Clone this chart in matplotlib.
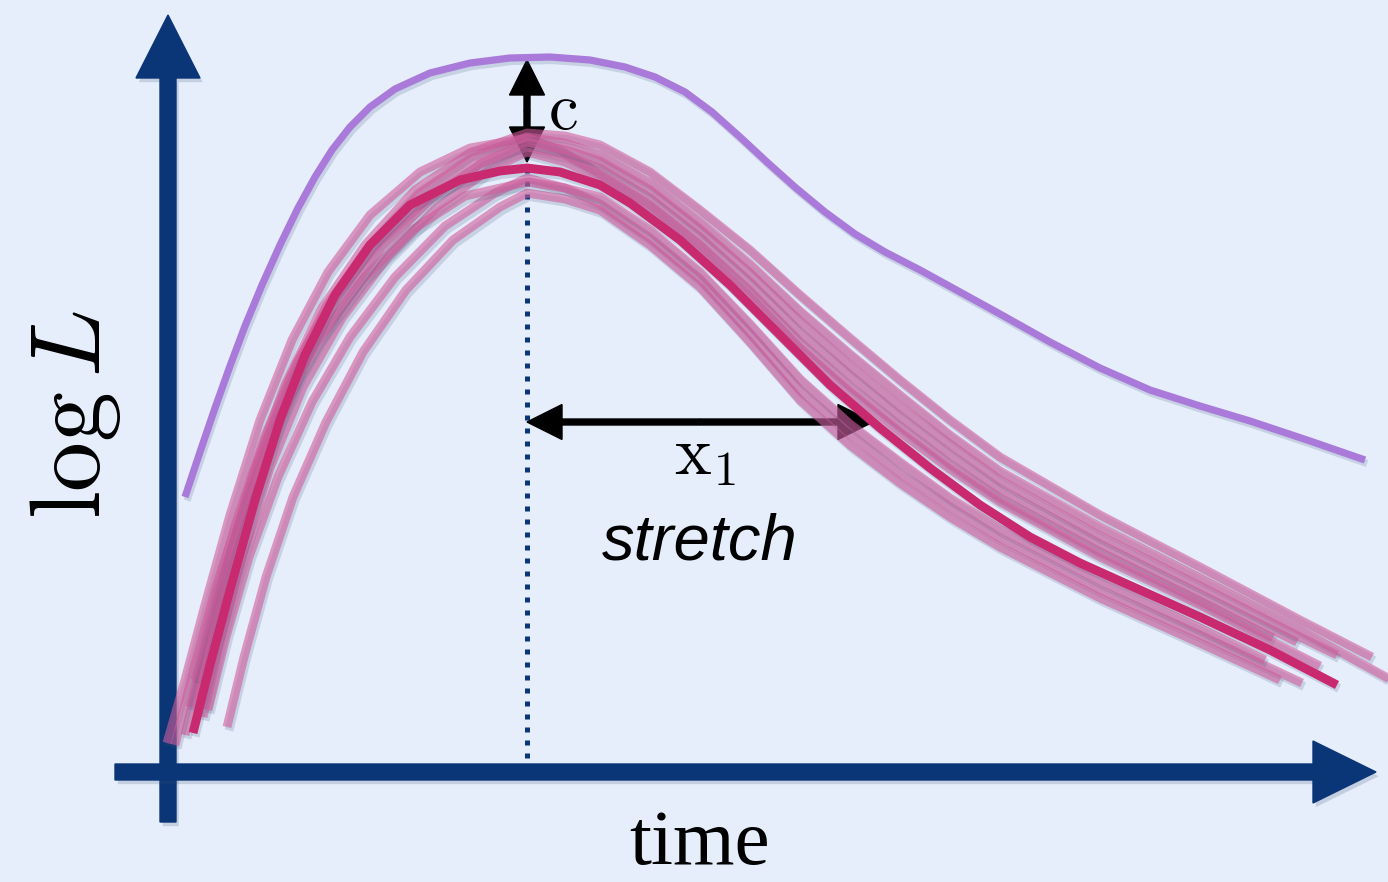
import matplotlib
matplotlib.use('Agg')
import matplotlib.pyplot as plt
import matplotlib.patheffects as pe
from matplotlib.patches import FancyArrow

BG = '#e6eefc'
AXIS_COLOR = '#0a3677'
PURPLE = '#a97ad9'
PINK_LIGHT = '#cf5c9b'
PINK_BOLD = '#c8296f'

plt.rcParams['mathtext.fontset'] = 'cm'

# ---- curves (x = time, y = log L, image units) ----
template_x = [185, 200, 215, 230, 245, 262, 280, 298, 315, 332, 350, 370, 395, 430, 470,
              510, 550, 590, 625, 655, 685, 712, 740, 768, 796, 825, 855, 885, 920, 960,
              1000, 1050, 1100, 1150, 1200, 1250, 1310, 1365]
template_y = [497, 452, 408, 366, 326, 285, 245, 208, 177, 150, 127, 107, 89, 73, 63,
              58, 57, 60, 67, 77, 92, 112, 137, 163, 188, 212, 234, 252, 270, 292,
              314, 342, 368, 390, 406, 421, 441, 460]

bold_x = [193, 210, 230, 255, 280, 305, 335, 370, 410, 460, 500, 527, 560, 600, 630, 680,
          730, 780, 830, 880, 930, 980, 1030, 1080, 1140, 1200, 1270, 1337]
bold_y = [733, 665, 590, 500, 420, 355, 295, 245, 205, 180, 171, 168, 172, 185, 203, 240,
          285, 335, 385, 428, 468, 505, 537, 563, 590, 617, 650, 685]

light_x = [
    [167, 185, 205, 230, 260, 292, 328, 370, 420, 470, 527, 560, 600, 650, 700, 750, 800,
     850, 900, 950, 1000, 1100, 1200, 1273],
    [185, 203, 225, 252, 285, 322, 365, 415, 470, 527, 565, 600, 650, 700, 750, 800, 850,
     900, 950, 1000, 1100, 1200, 1300, 1372],
    [190, 208, 230, 258, 290, 327, 370, 420, 472, 527, 565, 600, 650, 700, 750, 800, 850,
     900, 950, 1000, 1100, 1200, 1300, 1395],
    [195, 213, 236, 264, 297, 335, 380, 430, 480, 527, 565, 600, 650, 700, 750, 800, 850,
     900, 950, 1000, 1100, 1200, 1297],
    [203, 220, 242, 270, 303, 342, 387, 437, 487, 527, 565, 600, 650, 700, 750, 800, 850,
     900, 950, 1000, 1100, 1200, 1320],
    [208, 226, 249, 278, 312, 350, 395, 445, 495, 527, 565, 600, 650, 700, 750, 800, 850,
     900, 950, 1000, 1100, 1200, 1302],
    [227, 244, 266, 293, 326, 363, 406, 453, 500, 527, 565, 600, 650, 700, 750, 800, 850,
     900, 950, 1000, 1100, 1200, 1280],
    [175, 193, 216, 245, 278, 317, 362, 412, 465, 527, 565, 600, 650, 700, 750, 800, 850,
     900, 950, 1000, 1100, 1200, 1265],
    [198, 215, 238, 266, 300, 338, 382, 432, 482, 527, 565, 600, 650, 700, 750, 800, 850,
     900, 950, 1000, 1100, 1200, 1300, 1337],
]
light_y = [
    [743, 680, 605, 515, 420, 340, 272, 215, 172, 148, 138, 150, 174, 205, 245, 291, 342,
     386, 426, 464, 498, 552, 601, 638],
    [735, 660, 575, 475, 385, 308, 245, 190, 153, 133, 136, 145, 172, 210, 250, 295, 338,
     380, 420, 457, 515, 567, 620, 657],
    [707, 635, 552, 462, 378, 305, 245, 193, 158, 137, 143, 155, 183, 222, 264, 311, 354,
     395, 435, 471, 527, 578, 630, 682],
    [680, 607, 523, 438, 362, 297, 242, 196, 164, 147, 155, 168, 198, 237, 282, 332, 375,
     416, 454, 489, 544, 594, 642],
    [717, 642, 558, 468, 387, 318, 258, 207, 171, 152, 162, 178, 209, 249, 296, 348, 392,
     432, 469, 502, 557, 605, 666],
    [710, 637, 557, 477, 402, 337, 277, 226, 193, 178, 188, 204, 238, 279, 333, 390, 434,
     473, 507, 538, 590, 635, 683],
    [727, 657, 577, 497, 422, 352, 290, 240, 207, 193, 199, 210, 245, 287, 342, 400, 445,
     483, 517, 547, 598, 643, 680],
    [745, 672, 587, 497, 412, 342, 280, 230, 196, 182, 188, 197, 230, 272, 324, 379, 424,
     462, 498, 529, 581, 628, 660],
    [700, 627, 542, 454, 375, 307, 247, 198, 163, 142, 150, 161, 190, 229, 273, 321, 365,
     406, 444, 480, 536, 586, 637, 655],
]

peak_time = 527          # dotted line position
c_top, c_bottom = 60, 162
stretch_end = 873
stretch_level = 422

shadow = [pe.SimpleLineShadow(offset=(1.5, -2.5), shadow_color='#3a4f74', alpha=0.18),
          pe.Normal()]

fig = plt.figure(figsize=(13.88, 8.82), dpi=100, facecolor=BG)
ax = fig.add_axes([0, 0, 1, 1])
ax.set_facecolor(BG)
ax.set_xlim(0, 1388)
ax.set_ylim(882, 0)
ax.axis('off')

# axes arrows
arrow_fx = [pe.withSimplePatchShadow(offset=(2, -3), shadow_rgbFace='#3a4f74', alpha=0.2)]
ax.add_patch(FancyArrow(168, 822, 0, -807, width=16, head_width=64, head_length=63,
                        length_includes_head=True, color=AXIS_COLOR, zorder=2,
                        path_effects=arrow_fx))
ax.add_patch(FancyArrow(115, 772, 1261, 0, width=16, head_width=62, head_length=63,
                        length_includes_head=True, color=AXIS_COLOR, zorder=2,
                        path_effects=arrow_fx))

# dotted guide at peak
ax.plot([peak_time, peak_time], [168, 765], color=AXIS_COLOR, lw=3.6,
        linestyle=(0, (1, 1.6)), dash_capstyle='butt', zorder=3)

# annotation arrows (drawn under the curves)
mid_c = (c_top + c_bottom) / 2
for end in (c_top, c_bottom):
    ax.add_patch(FancyArrow(peak_time, mid_c, 0, end - mid_c, width=6, head_width=35,
                            head_length=35, length_includes_head=True, color='black',
                            zorder=4))
mid_s = (peak_time + stretch_end) / 2
for end in (peak_time, stretch_end):
    ax.add_patch(FancyArrow(mid_s, stretch_level, end - mid_s, 0, width=6, head_width=35,
                            head_length=35, length_includes_head=True, color='black',
                            zorder=4))

# curves
ax.plot(template_x, template_y, color=PURPLE, lw=5.2, solid_capstyle='butt',
        solid_joinstyle='round', zorder=5, path_effects=shadow)
for xs, ys in zip(light_x, light_y):
    ax.plot(xs, ys, color=PINK_LIGHT, alpha=0.6, lw=6.4, solid_capstyle='butt',
            solid_joinstyle='round', zorder=6, path_effects=shadow)
ax.plot(bold_x, bold_y, color=PINK_BOLD, lw=6.4, solid_capstyle='butt',
        solid_joinstyle='round', zorder=7, path_effects=shadow)

# labels
ax.text(548, 110, r'$\mathrm{c}$', fontsize=48, ha='left', va='center', zorder=8)
ax.text(705, 455, r'$\mathrm{x}_1$', fontsize=50, ha='center', va='center', zorder=8)
ax.text(700, 543, 'stretch', fontsize=47, style='italic', family='Liberation Sans',
        ha='center', va='center', zorder=8)
ax.text(700, 845, 'time', fontsize=57, family='Liberation Serif', ha='center',
        va='center', zorder=8)
ax.text(75, 415, r'$\log L$', fontsize=72, rotation=90, ha='center', va='center',
        zorder=8)

fig.savefig('out.png', dpi=100, facecolor=BG)
